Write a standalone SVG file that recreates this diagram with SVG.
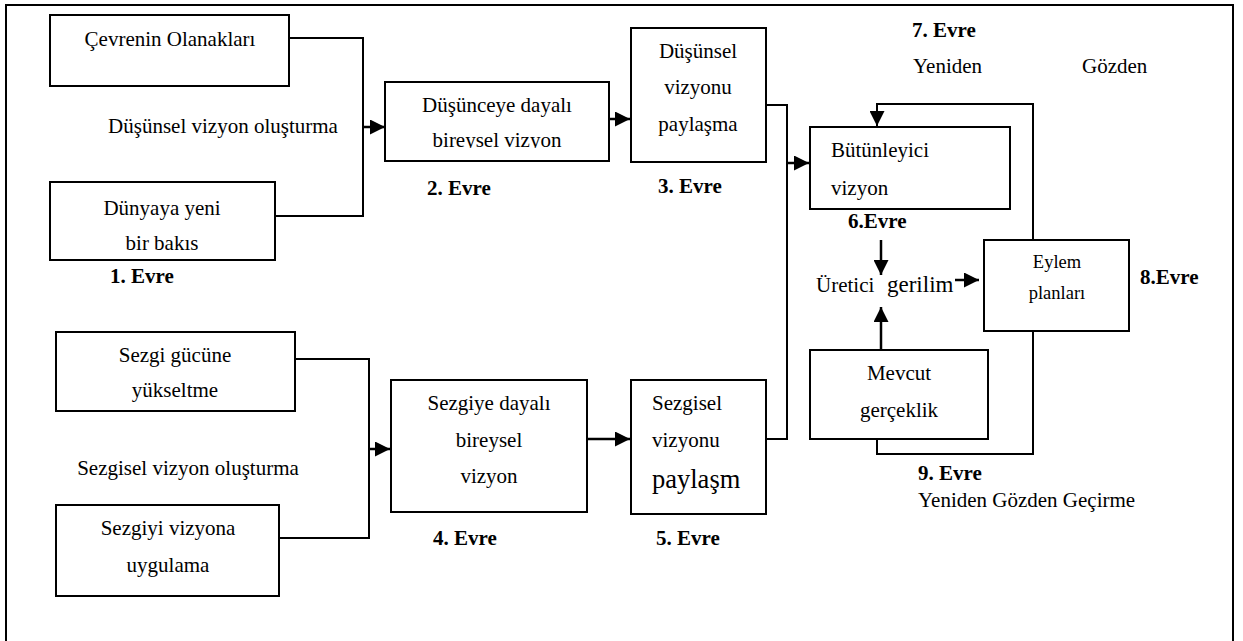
<svg xmlns="http://www.w3.org/2000/svg" width="1243" height="641" viewBox="0 0 1243 641">
<style>
text{font-family:"Liberation Serif","Times New Roman",serif;font-size:21px;fill:#000}
.b{font-weight:bold}
.c{text-anchor:middle}
.box{fill:#fff;stroke:#000;stroke-width:2}
.ln{fill:none;stroke:#000;stroke-width:2}
.ar{fill:none;stroke:#000;stroke-width:2.5}
</style>
<defs>
<marker id="ah" markerWidth="15" markerHeight="15" refX="15" refY="7.5" orient="auto" markerUnits="userSpaceOnUse"><path d="M0,0 L15,7.5 L0,15 z" fill="#000"/></marker>
<clipPath id="clip2"><rect x="385" y="82" width="224" height="66"/></clipPath>
</defs>
<rect x="6" y="5" width="1227" height="660" fill="none" stroke="#000" stroke-width="2"/>

<g id="connectors">
<polyline class="ln" points="289,38 363,38 363,216 275,216"/>
<line class="ar" x1="363" y1="127" x2="385" y2="127" marker-end="url(#ah)"/>
<line class="ar" x1="609" y1="119" x2="630" y2="119" marker-end="url(#ah)"/>
<polyline class="ln" points="766,105 787,105 787,439 766,439"/>
<line class="ar" x1="787" y1="163" x2="809" y2="163" marker-end="url(#ah)"/>
<polyline class="ln" points="295,359 369,359 369,538 279,538"/>
<line class="ar" x1="369" y1="449" x2="390" y2="449" marker-end="url(#ah)"/>
<line class="ar" x1="587" y1="439" x2="630" y2="439" marker-end="url(#ah)"/>
<polyline class="ln" points="1033,240 1033,104 877,104 877,126" marker-end="url(#ah)"/>
<line class="ar" x1="881" y1="240" x2="881" y2="275" marker-end="url(#ah)"/>
<line class="ar" x1="955" y1="280" x2="979" y2="280" marker-end="url(#ah)"/>
<line class="ar" x1="881" y1="350" x2="881" y2="307" marker-end="url(#ah)"/>
<polyline class="ln" points="1033,331 1033,454 877,454 877,418" marker-end="url(#ah)"/>
</g>

<g id="n-cevre">
<rect class="box" x="50" y="15" width="239" height="71"/>
<text x="170" y="46" class="c">Çevrenin Olanakları</text>
</g>
<g id="n-dunya">
<rect class="box" x="50" y="182" width="225" height="78"/>
<text x="162" y="215" class="c">Dünyaya yeni</text>
<text x="162" y="250" class="c">bir bakıs</text>
</g>
<g id="l-dusunsel"><text x="223" y="133" class="c">Düşünsel vizyon oluşturma</text></g>
<g id="l-evre1"><text x="110" y="283" class="b">1. Evre</text></g>

<g id="n-dusunceye">
<rect class="box" x="385" y="82" width="224" height="79"/>
<text x="497" y="112" class="c">Düşünceye dayalı</text>
<text x="497" y="147" class="c" clip-path="url(#clip2)">bireysel vizyon</text>
</g>
<g id="l-evre2"><text x="427" y="195" class="b">2. Evre</text></g>

<g id="n-paylasma">
<rect class="box" x="631" y="28" width="135" height="134"/>
<text x="698" y="58" class="c">Düşünsel</text>
<text x="698" y="94" class="c">vizyonu</text>
<text x="698" y="131" class="c">paylaşma</text>
</g>
<g id="l-evre3"><text x="658" y="193" class="b">3. Evre</text></g>

<g id="n-sezgi">
<rect class="box" x="56" y="332" width="239" height="79"/>
<text x="175" y="362" class="c">Sezgi gücüne</text>
<text x="175" y="397" class="c">yükseltme</text>
</g>
<g id="l-sezgisel"><text x="188" y="475" class="c">Sezgisel vizyon oluşturma</text></g>
<g id="n-sezgiyi">
<rect class="box" x="56" y="505" width="223" height="91"/>
<text x="168" y="535" class="c">Sezgiyi vizyona</text>
<text x="168" y="572" class="c">uygulama</text>
</g>

<g id="n-sezgiye">
<rect class="box" x="391" y="380" width="196" height="132"/>
<text x="489" y="410" class="c">Sezgiye dayalı</text>
<text x="489" y="447" class="c">bireysel</text>
<text x="489" y="483" class="c">vizyon</text>
</g>
<g id="l-evre4"><text x="433" y="545" class="b">4. Evre</text></g>

<g id="n-sezgiselpay">
<rect class="box" x="631" y="380" width="135" height="134"/>
<text x="652" y="410">Sezgisel</text>
<text x="652" y="447">vizyonu</text>
<text x="652" y="488" style="font-size:26.5px">paylaşm</text>
</g>
<g id="l-evre5"><text x="656" y="545" class="b">5. Evre</text></g>

<g id="n-butun">
<rect class="box" x="810" y="127" width="200" height="82"/>
<text x="831" y="157">Bütünleyici</text>
<text x="831" y="195">vizyon</text>
</g>
<g id="l-evre6"><text x="848" y="228" class="b">6.Evre</text></g>

<g id="l-evre7">
<text x="912" y="37" class="b">7. Evre</text>
<text x="913" y="73">Yeniden</text>
<text x="1082" y="73">Gözden</text>
</g>

<g id="n-uretici">
<text x="816" y="292">Üretici</text>
<text x="887" y="292" style="font-size:23px">gerilim</text>
</g>

<g id="n-eylem">
<rect class="box" x="984" y="240" width="145" height="91"/>
<text x="1057" y="268" class="c" style="font-size:18.5px">Eylem</text>
<text x="1057" y="299" class="c" style="font-size:18.5px">planları</text>
</g>
<g id="l-evre8"><text x="1140" y="284" class="b">8.Evre</text></g>

<g id="n-mevcut">
<rect class="box" x="810" y="350" width="178" height="89"/>
<text x="899" y="380" class="c">Mevcut</text>
<text x="899" y="417" class="c">gerçeklik</text>
</g>

<g id="l-evre9">
<text x="918" y="480" class="b">9. Evre</text>
<text x="918" y="507">Yeniden Gözden Geçirme</text>
</g>
</svg>
